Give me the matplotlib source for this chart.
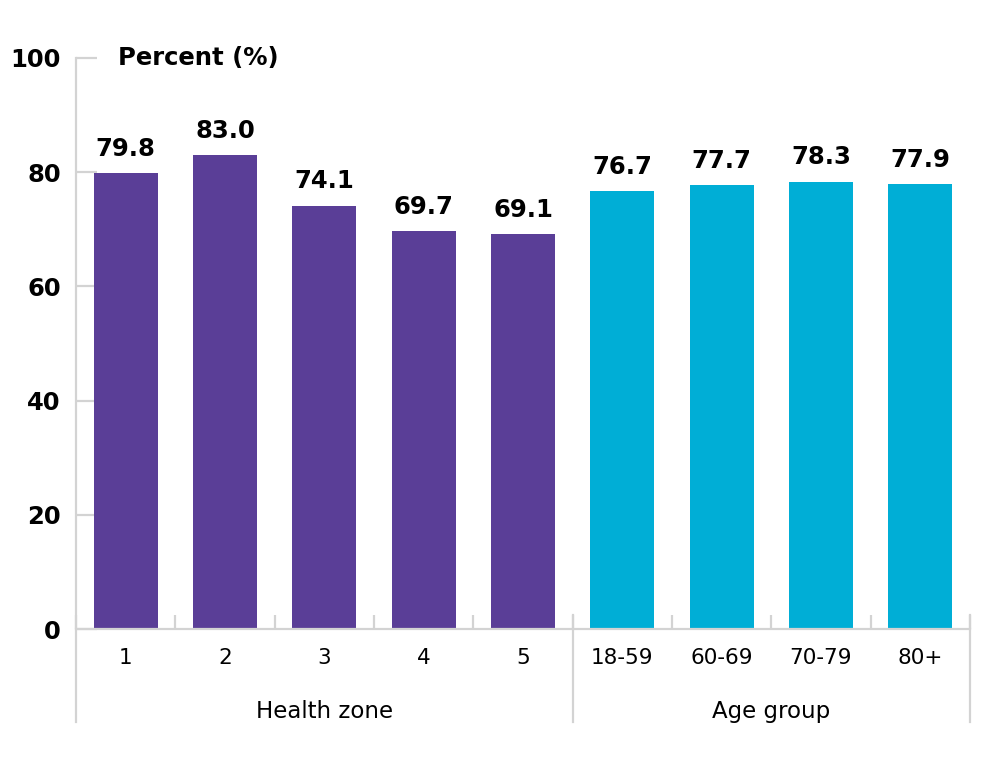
import numpy as np
import matplotlib.pyplot as plt
from matplotlib.lines import Line2D
import matplotlib.transforms as mtransforms

# data
categories = ['1', '2', '3', '4', '5', '18-59', '60-69', '70-79', '80+']
values = [79.8, 83.0, 74.1, 69.7, 69.1, 76.7, 77.7, 78.3, 77.9]
groups = ['Health zone', 'Age group']
group_sizes = [5, 4]
group_colors = ['#5A3E97', '#00AED6']
yticks = [0, 20, 40, 60, 80, 100]

GRAY = '#d3d3d3'
plt.rcParams['font.family'] = ['DejaVu Sans']

fig = plt.figure(figsize=(10, 7.7), dpi=100)
ax = fig.add_axes([0.076, 0.1831, 0.894, 0.7416])

x = np.arange(len(categories))
colors = []
for c, n in zip(group_colors, group_sizes):
    colors += [c] * n
bars = ax.bar(x, values, width=0.645, color=colors, zorder=2)

for b, v in zip(bars, values):
    ax.annotate(f'{v:.1f}', (b.get_x() + b.get_width() / 2, v),
                xytext=(0, 9), textcoords='offset points',
                ha='center', va='bottom', fontsize=17.5, fontweight='bold')

ax.set_xlim(-0.5, len(categories) - 0.5)
ax.set_ylim(0, 100)

for s in ['top', 'right']:
    ax.spines[s].set_visible(False)
ax.spines['left'].set_visible(False)
ax.spines['bottom'].set_color(GRAY)
ax.spines['bottom'].set_linewidth(1.6)

ax.set_yticks(yticks)
ax.set_yticklabels([str(t) for t in yticks], fontsize=17.5, fontweight='bold')
ax.tick_params(axis='y', direction='in', length=15, width=1.6, color=GRAY, pad=11)

ax.set_xticks(x)
ax.set_xticklabels(categories, fontsize=15.5)
ax.set_xticks(np.arange(-0.5, len(categories)), minor=True)
ax.tick_params(axis='x', which='major', length=0, pad=14)
ax.tick_params(axis='x', which='minor', direction='in', length=10, width=1.6, color=GRAY)

# left axis line running down past the group labels
trans = mtransforms.blended_transform_factory(ax.transData, ax.transAxes)
ax.add_line(Line2D([-0.5, -0.5], [-0.163, 1.0], transform=trans, color=GRAY,
                   lw=1.6, clip_on=False))

# group separators and group labels
edges = np.concatenate([[0], np.cumsum(group_sizes)]) - 0.5
for e in edges[1:]:
    ax.add_line(Line2D([e, e], [-0.163, 0.025], transform=trans, color=GRAY,
                       lw=1.6, clip_on=False))
for g, lo, hi in zip(groups, edges[:-1], edges[1:]):
    ax.text((lo + hi) / 2, -0.145, g, transform=trans, ha='center', va='center',
            fontsize=16.5)

ax.text(-0.08, 100, 'Percent (%)', ha='left', va='center', fontsize=17.5,
        fontweight='bold')

fig.savefig('out.png', dpi=100)
